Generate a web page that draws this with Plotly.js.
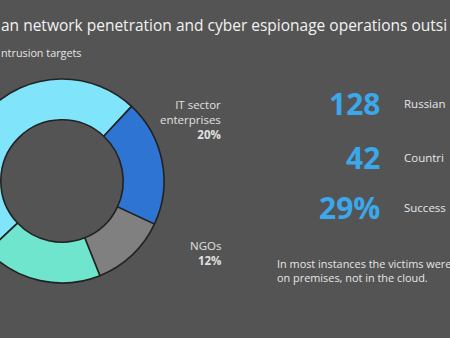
<!DOCTYPE html>
<html>
<head>
<meta charset="utf-8">
<script src="https://cdn.plot.ly/plotly-3.0.1.min.js"></script>
<style>
html,body{margin:0;padding:0;background:#545454;overflow:hidden;width:450px;height:338px;}
#wrap{position:absolute;left:0;top:0;width:450px;height:338px;overflow:hidden;}
#chart{position:absolute;left:-200px;top:0;width:900px;height:338px;}
</style>
</head>
<body>
<div id="wrap"><div id="chart"></div></div>
<script>
// ---- data ----
var sectorLabels = ['Government', 'IT sector enterprises', 'NGOs', 'Other'];
var sectorValues = [49, 20, 12, 19];
var sectorColors = ['#80E5FA', '#2E74D2', '#808080', '#6EE5CC'];
var calloutLabels = ['IT sector<br>enterprises', 'NGOs'];
var calloutIndex = [1, 2];
var statValues = ['128', '42', '29%'];
var statLabels = ['Russian', 'Countri', 'Success'];
var titleText = 'an network penetration and cyber espionage operations outsi';
var subtitleText = 'ntrusion targets';
var noteText = 'In most instances the victims were<br>on premises, not in the cloud.';

// ---- layout helpers (pixel -> paper) ----
var W = 900, H = 338, OFF = 200;
function px(x) { return (x + OFF) / W; }
function py(y) { return 1 - y / H; }

var cx = 62, cy = 181, R = 102;

var trace = {
  type: 'pie',
  labels: sectorLabels,
  values: sectorValues,
  marker: {colors: sectorColors, line: {color: '#222222', width: 1.6}},
  hole: 0.6,
  sort: false,
  direction: 'clockwise',
  rotation: -133.4,
  textinfo: 'none',
  hoverinfo: 'label+percent',
  showlegend: false,
  domain: {x: [px(cx - R), px(cx + R)], y: [py(cy + R), py(cy - R)]}
};

var font = 'Open Sans, Noto Sans, sans-serif';
var ann = [];
ann.push({text: titleText, x: px(-1), y: py(25), xref: 'paper', yref: 'paper', xanchor: 'left', yanchor: 'middle',
  showarrow: false, font: {family: font, size: 15.5, color: '#F2F2F2'}});
ann.push({text: subtitleText, x: px(-1), y: py(52), xref: 'paper', yref: 'paper', xanchor: 'left', yanchor: 'middle',
  showarrow: false, font: {family: font, size: 10.8, color: '#E6E6E6'}});

var calloutY = [119, 253];
calloutLabels.forEach(function(l, i) {
  var v = sectorValues[calloutIndex[i]];
  ann.push({text: l + '<br><b>' + v + '%</b>', x: px(223), y: py(calloutY[i]), xref: 'paper', yref: 'paper',
    xanchor: 'right', yanchor: 'middle', align: 'right', showarrow: false,
    font: {family: font, size: 11.5, color: '#E0E0E0'}});
});

var statY = [103, 157, 207];
statValues.forEach(function(v, i) {
  ann.push({text: '<b>' + v + '</b>', x: px(382), y: py(statY[i]), xref: 'paper', yref: 'paper',
    xanchor: 'right', yanchor: 'middle', showarrow: false,
    font: {family: font, size: 30, color: '#3AA8EA'}});
  ann.push({text: statLabels[i], x: px(402), y: py(statY[i]), xref: 'paper', yref: 'paper',
    xanchor: 'left', yanchor: 'middle', showarrow: false,
    font: {family: font, size: 11.5, color: '#E6E6E6'}});
});

ann.push({text: noteText, x: px(275), y: py(270), xref: 'paper', yref: 'paper', xanchor: 'left', yanchor: 'middle',
  align: 'left', showarrow: false, font: {family: font, size: 10.9, color: '#E6E6E6'}});

var layout = {
  width: W, height: H,
  margin: {l: 0, r: 0, t: 0, b: 0},
  paper_bgcolor: '#545454',
  plot_bgcolor: '#545454',
  annotations: ann,
  showlegend: false
};

Plotly.newPlot('chart', [trace], layout, {displayModeBar: false, staticPlot: true});
</script>
</body>
</html>
